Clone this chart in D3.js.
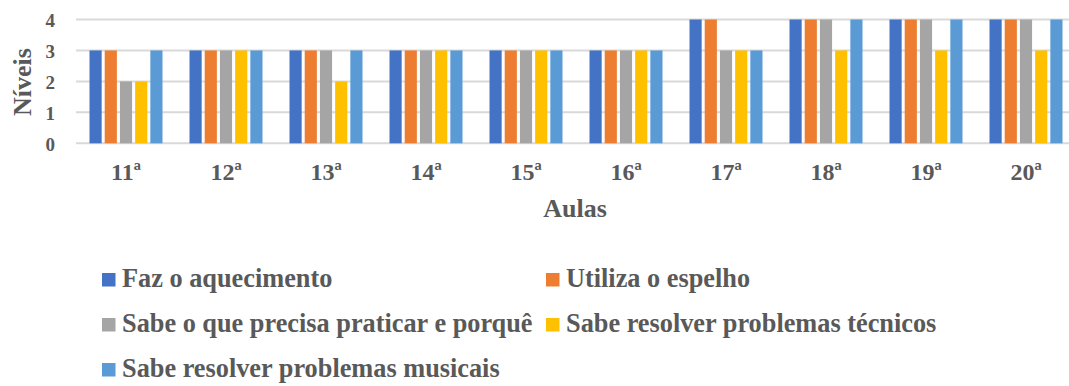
<!DOCTYPE html>
<html>
<head>
<meta charset="utf-8">
<script src="https://cdn.jsdelivr.net/npm/d3@7"></script>
</head>
<body style="margin:0;background:#fff">
<svg id="chart" width="1069" height="386" style="display:block"></svg>
<script>
// Lessons (x categories)
const aulas = ["11ª", "12ª", "13ª", "14ª", "15ª", "16ª", "17ª", "18ª", "19ª", "20ª"];

// Observed criteria (series)
const series = [
  "Faz o aquecimento",
  "Utiliza o espelho",
  "Sabe o que precisa praticar e porquê",
  "Sabe resolver problemas técnicos",
  "Sabe resolver problemas musicais"
];

// Level reached per lesson, one array per criterion
const fazAquecimento      = [3, 3, 3, 3, 3, 3, 4, 4, 4, 4];
const utilizaEspelho      = [3, 3, 3, 3, 3, 3, 4, 4, 4, 4];
const sabePraticar        = [2, 3, 3, 3, 3, 3, 3, 4, 4, 4];
const problemasTecnicos   = [2, 3, 2, 3, 3, 3, 3, 3, 3, 3];
const problemasMusicais   = [3, 3, 3, 3, 3, 3, 3, 4, 4, 4];

const yTicks = [0, 1, 2, 3, 4];

const colors = ["#4472C4", "#ED7D31", "#A5A5A5", "#FFC000", "#5B9BD5"];

const FONT = "Liberation Serif";
const INK = "#595959";

const values = [fazAquecimento, utilizaEspelho, sabePraticar, problemasTecnicos, problemasMusicais];
const rows = aulas.map((a, i) => ({ aula: a, vals: values.map((v, s) => ({ s, v: v[i] })) }));

const svg = d3.select("#chart");

const x0 = d3.scaleBand().domain(aulas).range([76, 1076]).paddingInner(0.27).paddingOuter(0.135);
const x1 = d3.scaleBand().domain(d3.range(series.length)).range([0, x0.bandwidth()]).paddingInner(0.2);
const y = d3.scaleLinear().domain([0, 4]).range([143.3, 19.5]);

// Gridlines
svg.append("g")
  .selectAll("line")
  .data(yTicks)
  .join("line")
  .attr("x1", 76).attr("x2", 1069)
  .attr("y1", d => y(d)).attr("y2", d => y(d))
  .attr("stroke", "#D9D9D9").attr("stroke-width", 2);

function styleText(sel, size) {
  sel.attr("font-family", FONT)
    .attr("font-weight", "bold")
    .attr("font-size", size)
    .attr("fill", INK);
}

// Y axis labels
const yAxis = d3.axisLeft(y).tickValues(yTicks).tickSize(0).tickPadding(0).tickFormat(d3.format("d"));
const gy = svg.append("g").attr("transform", "translate(55,0)").call(yAxis)
  .attr("font-family", FONT).attr("font-size", 19);
gy.select(".domain").remove();
gy.selectAll("text").attr("dy", "0.36em").call(styleText, 19);

// Bars
svg.append("g")
  .selectAll("g")
  .data(rows)
  .join("g")
  .attr("transform", d => `translate(${x0(d.aula)},0)`)
  .selectAll("rect")
  .data(d => d.vals)
  .join("rect")
  .attr("x", d => x1(d.s))
  .attr("width", x1.bandwidth())
  .attr("y", d => y(d.v))
  .attr("height", d => y(0) - y(d.v))
  .attr("fill", d => colors[d.s]);

// X axis labels
const xAxis = d3.axisBottom(x0).tickSize(0).tickPadding(0);
const gx = svg.append("g").attr("transform", "translate(0,143)").call(xAxis)
  .attr("font-family", FONT).attr("font-size", 24);
gx.select(".domain").remove();
gx.selectAll("text").attr("y", 36.5).attr("dy", null).call(styleText, 24);

// Axis titles
svg.append("text")
  .attr("transform", "translate(31,82) rotate(-90)")
  .attr("text-anchor", "middle")
  .call(styleText, 26)
  .text("Níveis");

svg.append("text")
  .attr("x", 575).attr("y", 217)
  .attr("text-anchor", "middle")
  .call(styleText, 26)
  .text("Aulas");

// Legend
const legendPos = [
  { x: 102, y: 287 }, { x: 546, y: 287 },
  { x: 102, y: 332 }, { x: 546, y: 332 },
  { x: 102, y: 377 }
];
const lg = svg.append("g")
  .selectAll("g")
  .data(series)
  .join("g")
  .attr("transform", (d, i) => `translate(${legendPos[i].x},${legendPos[i].y})`);
lg.append("rect")
  .attr("x", 0).attr("y", -14).attr("width", 13.5).attr("height", 13.5)
  .attr("fill", (d, i) => colors[i]);
lg.append("text")
  .attr("x", 20).attr("y", 0)
  .call(styleText, 26.3)
  .text(d => d);
</script>
</body>
</html>
